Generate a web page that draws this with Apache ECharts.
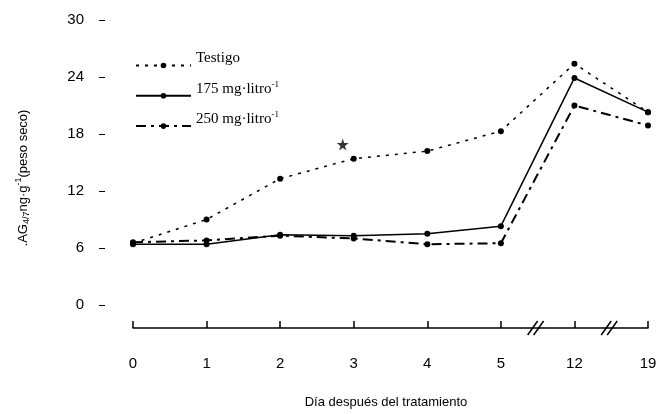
<!DOCTYPE html>
<html><head><meta charset="utf-8">
<script src="https://cdn.jsdelivr.net/npm/echarts@6/dist/echarts.min.js"></script>
<style>html,body{margin:0;padding:0;background:#fff}#c{width:660px;height:414px}</style>
</head><body><div id="c"></div>
<script>
var categories = ['0', '1', '2', '3', '4', '5', '12', '19'];
var testigo = [6.5, 9.0, 13.3, 15.4, 16.2, 18.3, 25.4, 20.3];
var mg175 = [6.4, 6.4, 7.4, 7.3, 7.5, 8.3, 23.9, 20.3];
var mg250 = [6.6, 6.8, 7.3, 7.0, 6.4, 6.5, 21.0, 18.9];
var starPoint = [['3', 16.9]];
var yTicks = [0, 6, 12, 18, 24, 30];
var seriesNames = ['Testigo', '175 mg·litro-1', '250 mg·litro-1'];

var chart = echarts.init(document.getElementById('c'), null, {renderer: 'canvas'});
var starPath = 'path://M50,0 L61,35 L98,35 L68,57 L79,91 L50,70 L21,91 L32,57 L2,35 L39,35 Z';

function lineSeries(name, data, lt, w) {
  return {
    name: name, type: 'line', data: data, symbol: 'circle', symbolSize: 6,
    itemStyle: {color: '#000'},
    lineStyle: {color: '#000', width: w, type: lt},
    animation: false
  };
}

chart.setOption({
  animation: false,
  backgroundColor: '#fff',
  grid: {left: 133, right: 12, top: 20, bottom: 109, containLabel: false},
  legend: {
    data: seriesNames,
    orient: 'vertical', left: 130, top: 46,
    itemWidth: 55, itemHeight: 7, itemGap: 12,
    textStyle: {
      fontFamily: 'Liberation Serif', fontSize: 15, color: '#000',
      rich: {
        t: {fontFamily: 'Liberation Serif', fontSize: 15, color: '#000', padding: [0, 0, 14, 0]},
        s: {fontFamily: 'Liberation Serif', fontSize: 9, color: '#000', padding: [0, 0, 22, 0]}
      }
    },
    formatter: function (n) {
      if (n.slice(-2) === '-1') return '{t|' + n.slice(0, -2) + '}{s|-1}';
      return '{t|' + n + '}';
    }
  },
  xAxis: {
    type: 'category', data: categories, boundaryGap: false, offset: 23,
    axisLine: {onZero: false, lineStyle: {color: '#000', width: 1.5}},
    axisTick: {inside: true, length: 7, lineStyle: {color: '#000', width: 1.5}},
    axisLabel: {margin: 28, fontFamily: 'Liberation Sans', fontSize: 15, color: '#000'}
  },
  yAxis: {
    type: 'value', min: yTicks[0], max: yTicks[yTicks.length - 1], interval: 6, offset: 28,
    axisLine: {show: false},
    axisTick: {show: true, length: 6, lineStyle: {color: '#000', width: 1}},
    splitLine: {show: false},
    axisLabel: {margin: 21, fontFamily: 'Liberation Sans', fontSize: 15, color: '#000'}
  },
  graphic: [
    {
      type: 'text', x: 23, y: 178, rotation: Math.PI / 2, z: 10,
      style: {
        text: '{a|.AG}{b|4/7}{a|ng·g}{c|-1}{a|(peso seco)}',
        align: 'center', verticalAlign: 'middle',
        rich: {
          a: {fontFamily: 'Liberation Sans', fontSize: 13, fill: '#000'},
          b: {fontFamily: 'Liberation Sans', fontSize: 9, fill: '#000', padding: [8, 0, 0, 0]},
          c: {fontFamily: 'Liberation Sans', fontSize: 9, fill: '#000', padding: [0, 0, 8, 0]}
        }
      }
    },
    {
      type: 'text', x: 386, y: 402, z: 10,
      style: {text: 'Día después del tratamiento', fontFamily: 'Liberation Sans', fontSize: 13,
        fill: '#000', align: 'center', verticalAlign: 'middle'}
    }
  ],
  series: [
    lineSeries(seriesNames[0], testigo, [3, 6], 1.5),
    lineSeries(seriesNames[1], mg175, 'solid', 1.5),
    lineSeries(seriesNames[2], mg250, [10, 5, 3, 5], 2),
    {
      name: 'star', type: 'scatter', data: starPoint, symbol: starPath, symbolSize: 12,
      symbolOffset: [-11, 0], itemStyle: {color: '#000'}, animation: false
    }
  ]
});

// axis break marks between 5-12 and 12-19
var ay = chart.convertToPixel({yAxisIndex: 0}, 0) + 23;
var marks = [];
[[5, 6], [6, 7]].forEach(function (p) {
  var x1 = chart.convertToPixel({xAxisIndex: 0}, p[0]);
  var x2 = chart.convertToPixel({xAxisIndex: 0}, p[1]);
  var cx = (x1 + x2) / 2 - 2;
  [-3, 3].forEach(function (d) {
    marks.push({type: 'line', z: 20,
      shape: {x1: cx + d - 5, y1: ay + 7, x2: cx + d + 5, y2: ay - 7},
      style: {stroke: '#000', lineWidth: 1.5}});
  });
});
chart.setOption({graphic: marks.map(function (m, i) { m.id = 'brk' + i; return m; })});
</script>
</body></html>
